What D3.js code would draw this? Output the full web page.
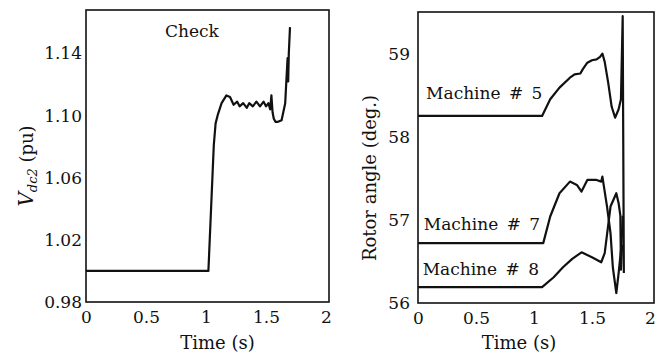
<!DOCTYPE html>
<html>
<head>
<meta charset="utf-8">
<script src="https://cdn.jsdelivr.net/npm/d3@7"></script>
<style>
  html, body { margin: 0; padding: 0; background: #fff; }
  svg { display: block; }
  text { font-family: "DejaVu Serif", "Liberation Serif", serif; fill: #111; }
</style>
</head>
<body>
<svg id="chart" width="671" height="356"></svg>
<script>
// ---- Data ----
// DC voltage at converter 2 (pu) versus time (s)
const vdcTime  = [0, 1.02, 1.045, 1.065, 1.08, 1.10, 1.13, 1.17, 1.20, 1.23, 1.26, 1.28, 1.31, 1.34, 1.36, 1.39, 1.42, 1.45, 1.48, 1.50, 1.52, 1.535, 1.545, 1.555, 1.565, 1.58, 1.60, 1.63, 1.66, 1.67, 1.68, 1.685, 1.69, 1.70];
const vdcValue = [1.0, 1.0, 1.045, 1.081, 1.095, 1.101, 1.108, 1.113, 1.112, 1.107, 1.109, 1.106, 1.108, 1.105, 1.108, 1.106, 1.109, 1.106, 1.109, 1.106, 1.108, 1.104, 1.113, 1.102, 1.098, 1.096, 1.096, 1.097, 1.108, 1.123, 1.137, 1.122, 1.140, 1.157];

// Rotor angles (deg.) versus time (s)
const m5Time  = [0, 1.07, 1.14, 1.22, 1.31, 1.35, 1.40, 1.42, 1.46, 1.50, 1.54, 1.57, 1.59, 1.61, 1.64, 1.67, 1.70, 1.73, 1.75, 1.765, 1.775];
const m5Value = [58.25, 58.25, 58.45, 58.59, 58.71, 58.75, 58.76, 58.81, 58.89, 58.92, 58.93, 58.96, 59.0, 58.9, 58.65, 58.36, 58.23, 58.33, 58.45, 59.45, 56.36];

const m7Time  = [0, 1.08, 1.14, 1.22, 1.31, 1.37, 1.41, 1.46, 1.54, 1.58, 1.59, 1.63, 1.66, 1.68, 1.71, 1.73, 1.755, 1.765];
const m7Value = [56.72, 56.72, 57.04, 57.32, 57.46, 57.42, 57.34, 57.48, 57.48, 57.46, 57.52, 57.16, 56.84, 56.43, 56.12, 56.36, 56.7, 57.05];

const m8Time  = [0, 1.07, 1.17, 1.25, 1.33, 1.41, 1.50, 1.58, 1.61, 1.66, 1.71, 1.73, 1.745, 1.75, 1.76];
const m8Value = [56.19, 56.19, 56.31, 56.43, 56.53, 56.61, 56.55, 56.49, 56.6, 57.16, 57.32, 57.2, 57.05, 56.4, 56.7];

const xTicks      = [0, 0.5, 1, 1.5, 2];
const xTickLabels = ["0", "0.5", "1", "1.5", "2"];
const vdcTicks      = [0.98, 1.02, 1.06, 1.10, 1.14];
const vdcTickLabels = ["0.98", "1.02", "1.06", "1.10", "1.14"];
const angTicks      = [56, 57, 58, 59];
const angTickLabels = ["56", "57", "58", "59"];

const machineNames = ["Machine # 5", "Machine # 7", "Machine # 8"];
const machineLabelAnchor = [[0.07, 58.45], [0.05, 56.88], [0.04, 56.34]]; // (time, angle) of label baseline start

// ---- Drawing ----
const svg = d3.select("#chart");
svg.append("rect").attr("width", 671).attr("height", 356).attr("fill", "#fff");

function panel(cfg) {
  const g = svg.append("g");
  const x = d3.scaleLinear().domain([0, cfg.xMax]).range([cfg.left, cfg.right]);
  const y = d3.scaleLinear().domain(cfg.yDomain).range([cfg.bottom, cfg.top]);

  // frame
  g.append("rect")
    .attr("x", cfg.left).attr("y", cfg.top)
    .attr("width", cfg.right - cfg.left).attr("height", cfg.bottom - cfg.top)
    .attr("fill", "none").attr("stroke", "#111").attr("stroke-width", 1.6);

  // axes (labels only, frame drawn above)
  const xAxis = d3.axisBottom(x).tickValues(xTicks)
    .tickFormat((d, i) => xTickLabels[i]).tickSize(0).tickPadding(cfg.xPad);
  const gx = g.append("g").attr("transform", `translate(0,${cfg.bottom})`).call(xAxis);
  gx.select(".domain").remove();
  gx.selectAll("text").attr("font-size", 17).attr("font-family", "DejaVu Serif").attr("fill", "#111");

  const yAxis = d3.axisLeft(y).tickValues(cfg.yTicks)
    .tickFormat((d, i) => cfg.yTickLabels[i]).tickSize(0).tickPadding(cfg.yPad);
  const gy = g.append("g").attr("transform", `translate(${cfg.left},0)`).call(yAxis);
  gy.select(".domain").remove();
  gy.selectAll("text").attr("font-size", 17).attr("font-family", "DejaVu Serif").attr("fill", "#111");

  // x title
  g.append("text")
    .attr("x", (cfg.left + cfg.right) / 2 + cfg.xTitleShift).attr("y", cfg.xTitleY)
    .attr("text-anchor", "middle").attr("font-size", 18)
    .text("Time (s)");

  const line = d3.line().x(d => x(d[0])).y(d => y(d[1]));
  cfg.series.forEach(s => {
    g.append("path")
      .datum(d3.zip(s.t, s.v))
      .attr("d", line)
      .attr("fill", "none").attr("stroke", "#111")
      .attr("stroke-width", 2.2).attr("stroke-linejoin", "round");
  });
  return { g, x, y };
}

// Left panel: DC voltage
const left = panel({
  left: 86, right: 329, top: 10, bottom: 302, xMax: 2.025,
  yDomain: [0.98, 1.168], yTicks: vdcTicks, yTickLabels: vdcTickLabels,
  xPad: 9, yPad: 4, xTitleY: 349, xTitleShift: 10,
  series: [{ t: vdcTime, v: vdcValue }]
});
left.g.append("text")
  .attr("x", 192).attr("y", 37).attr("text-anchor", "middle")
  .attr("font-size", 17).text("Check");
const vLabel = left.g.append("text")
  .attr("transform", "translate(33,166) rotate(-90)")
  .attr("text-anchor", "middle").attr("font-size", 18);
vLabel.append("tspan").attr("font-style", "italic").attr("font-size", 20).text("V");
vLabel.append("tspan").attr("font-style", "italic").attr("font-size", 13).attr("dy", 4).text("dc2");
vLabel.append("tspan").attr("dy", -4).text(" (pu)");

// Right panel: rotor angles
const right = panel({
  left: 418, right: 654, top: 12, bottom: 303, xMax: 2.035,
  yDomain: [56, 59.5], yTicks: angTicks, yTickLabels: angTickLabels,
  xPad: 9, yPad: 8, xTitleY: 349, xTitleShift: -17,
  series: [
    { t: m5Time, v: m5Value },
    { t: m7Time, v: m7Value },
    { t: m8Time, v: m8Value }
  ]
});
right.g.append("text")
  .attr("transform", "translate(376,178) rotate(-90)")
  .attr("text-anchor", "middle").attr("font-size", 18)
  .text("Rotor angle (deg.)");
right.g.selectAll("text.machine")
  .data(machineNames)
  .join("text")
  .attr("class", "machine")
  .attr("x", (d, i) => right.x(machineLabelAnchor[i][0]))
  .attr("y", (d, i) => right.y(machineLabelAnchor[i][1]))
  .attr("font-size", 17)
  .attr("word-spacing", 3)
  .text(d => d);
</script>
</body>
</html>
